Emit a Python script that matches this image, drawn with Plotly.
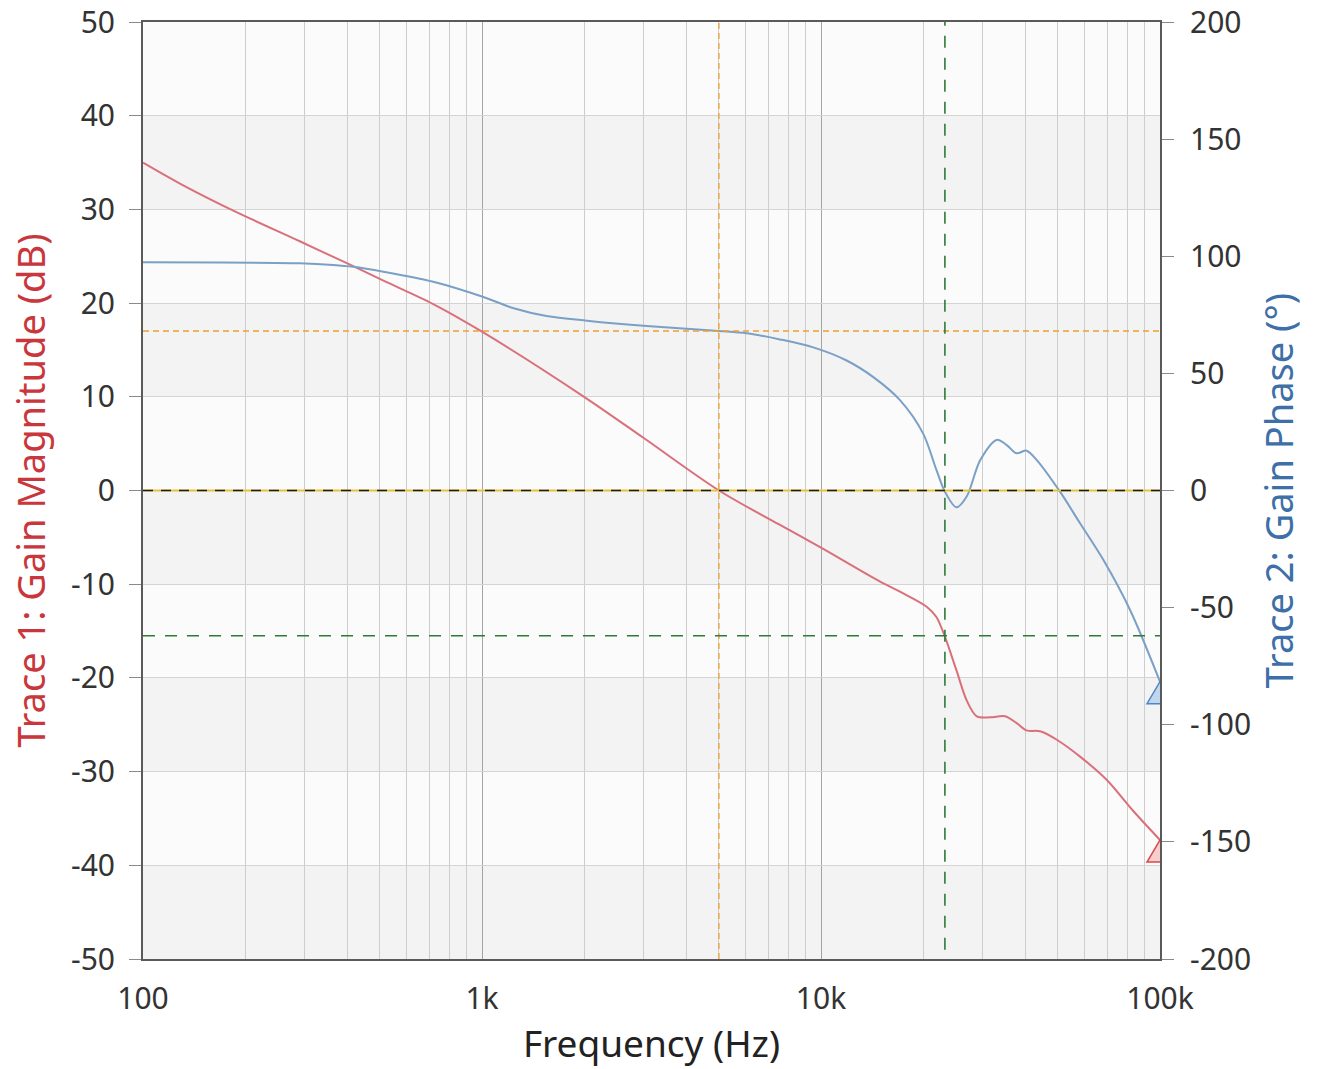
import plotly.graph_objects as go

# ---------------- data ----------------
mag_freq = [100, 131, 184, 290, 408, 512, 718, 1000, 2000, 3000, 5000, 7500, 10000,
            14900, 17100, 20500, 21900, 23200, 25100, 26900, 28800, 31600, 34900,
            37700, 40400, 44300, 49600, 58100, 69700, 82900, 100000]
mag_db = [35.0, 32.6, 29.9, 26.6, 24.1, 22.4, 19.9, 16.95, 10.0, 5.6, 0.0, -3.6, -6.1,
          -9.7, -10.8, -12.4, -13.5, -15.6, -19.2, -22.4, -24.1, -24.2, -24.1,
          -24.8, -25.6, -25.7, -26.6, -28.4, -30.9, -34.1, -37.3]

phase_freq = [100, 290, 364, 417, 512, 718, 1000, 1240, 1550, 2040, 3060, 5000, 6040,
              7570, 9490, 11900, 14300, 17100, 20000, 21900, 23200, 25100, 26900,
              29500, 33000, 35300, 37700, 40400, 43300, 50700, 58100, 68100, 81600, 100000]
phase_deg = [97.4, 97.0, 96.3, 95.5, 93.4, 89.1, 82.8, 77.8, 74.5, 72.5, 70.2, 68.1, 67.1,
             64.5, 61.1, 55.5, 48.3, 38.6, 24.4, 8.8, -0.5, -7.2, -2.6,
             13.0, 21.6, 19.4, 15.9, 17.0, 13.0, -0.5, -14.0, -29.7, -51.0, -81.6]

crossover_freq = 5000      # gain crossover (0 dB)
phase_margin = 68.1        # degrees, right axis
phase_cross_freq = 23200   # phase crossover (0 deg)
gain_margin_db = -15.5     # dB, left axis

x_tickvals = [100, 1000, 10000, 100000]
x_ticktext = ["100", "1k", "10k", "100k"]
y1_ticks = [50, 40, 30, 20, 10, 0, -10, -20, -30, -40, -50]
y2_ticks = [200, 150, 100, 50, 0, -50, -100, -150, -200]

# ---------------- style ----------------
FONT = "Noto Sans"
RED = "#d9707a"
BLUE = "#7aa0c6"
RED_TITLE = "#c9363c"
BLUE_TITLE = "#3d6fa8"

minor_vals = [d * m for d in (100, 1000, 10000) for m in range(2, 10)]

fig = go.Figure()

fig.add_trace(go.Scatter(
    x=mag_freq, y=mag_db, mode="lines", name="Trace 1",
    line=dict(color=RED, width=2, shape="spline", smoothing=0.9),
    yaxis="y", showlegend=False, hoverinfo="skip"))
fig.add_trace(go.Scatter(
    x=phase_freq, y=phase_deg, mode="lines", name="Trace 2",
    line=dict(color=BLUE, width=2, shape="spline", smoothing=0.9),
    yaxis="y2", showlegend=False, hoverinfo="skip"))

shapes = []
# alternating background bands
for i in range(len(y1_ticks) - 1):
    if i % 2 == 1:
        shapes.append(dict(type="rect", xref="paper", yref="y", x0=0, x1=1,
                           y0=y1_ticks[i], y1=y1_ticks[i + 1],
                           fillcolor="#f3f3f3", line=dict(width=0), layer="below"))

# zero line (yellow with black dashes)
shapes.append(dict(type="line", xref="paper", yref="y", x0=0, x1=1, y0=0, y1=0,
                   line=dict(color="#e6c23a", width=2)))
shapes.append(dict(type="line", xref="paper", yref="y2", x0=0, x1=1, y0=0, y1=0,
                   line=dict(color="#1a1a1a", width=1.6, dash="10px,8px")))
# crossover markers (orange)
shapes.append(dict(type="line", xref="x", yref="paper", x0=crossover_freq, x1=crossover_freq,
                   y0=0, y1=1, line=dict(color="#f0a030", width=1.3, dash="6px,4px")))
shapes.append(dict(type="line", xref="paper", yref="y2", x0=0, x1=1,
                   y0=phase_margin, y1=phase_margin,
                   line=dict(color="#f0a030", width=1.3, dash="6px,4px")))
# gain margin markers (green)
shapes.append(dict(type="line", xref="x", yref="paper", x0=phase_cross_freq, x1=phase_cross_freq,
                   y0=0.01, y1=1, line=dict(color="#2f7a3a", width=1.6, dash="12px,10px")))
shapes.append(dict(type="line", xref="paper", yref="y", x0=0, x1=1,
                   y0=gain_margin_db, y1=gain_margin_db,
                   line=dict(color="#2f7a3a", width=1.6, dash="12px,10px")))
# end-of-trace triangle markers
tri = "M0,0 L13,-22 L-13,-22 Z"
shapes.append(dict(type="path", xref="x", yref="y", xsizemode="pixel", ysizemode="pixel",
                   xanchor=mag_freq[-1], yanchor=mag_db[-1], path=tri,
                   fillcolor="rgba(240,150,150,0.45)", line=dict(color="#d94a4a", width=1.5)))
shapes.append(dict(type="path", xref="x", yref="y2", xsizemode="pixel", ysizemode="pixel",
                   xanchor=phase_freq[-1], yanchor=phase_deg[-1], path=tri,
                   fillcolor="rgba(150,190,235,0.55)", line=dict(color="#4f86c0", width=1.5)))

fig.update_layout(
    width=1317, height=1069,
    margin=dict(l=143, r=157, t=22, b=110, autoexpand=False),
    paper_bgcolor="white",
    plot_bgcolor="#fbfbfb",
    font=dict(family=FONT, size=30, color="#333333"),
    shapes=shapes,
    xaxis=dict(
        type="log", range=[2, 5], automargin=False,
        tickvals=x_tickvals, ticktext=x_ticktext,
        ticks="", ticklabelstandoff=12,
        showgrid=True, gridcolor="#a4a4a4", gridwidth=1,
        minor=dict(tickvals=minor_vals, showgrid=True, gridcolor="#cdcdcd", gridwidth=1, ticks=""),
        showline=True, linecolor="#5a5a5a", linewidth=2, mirror=True,
        zeroline=False,
        title=dict(text="Frequency (Hz)", font=dict(size=37, color="#222222"), standoff=14),
        tickfont=dict(size=30, color="#333333"),
    ),
    yaxis=dict(
        range=[-50, 50], tickvals=y1_ticks, ticktext=[str(v) for v in y1_ticks],
        automargin=False,
        ticks="outside", ticklen=12, tickcolor="#8a8a8a", tickwidth=1, ticklabelstandoff=8,
        showgrid=True, gridcolor="#d4d4d4", gridwidth=1,
        showline=True, linecolor="#5a5a5a", linewidth=2,
        zeroline=False,
        title=dict(text="Trace 1: Gain Magnitude (dB)", font=dict(size=38, color=RED_TITLE), standoff=14),
        tickfont=dict(size=30, color="#333333"),
    ),
    yaxis2=dict(
        range=[-200, 200], tickvals=y2_ticks, ticktext=[str(v) for v in y2_ticks],
        automargin=False,
        overlaying="y", side="right", anchor="x",
        ticks="outside", ticklen=12, tickcolor="#8a8a8a", tickwidth=1, ticklabelstandoff=10,
        showgrid=False, zeroline=False,
        showline=True, linecolor="#5a5a5a", linewidth=2,
        title=dict(text="Trace 2: Gain Phase (°)", font=dict(size=38, color=BLUE_TITLE), standoff=16),
        tickfont=dict(size=30, color="#333333"),
    ),
)

fig.write_html("out.html")
